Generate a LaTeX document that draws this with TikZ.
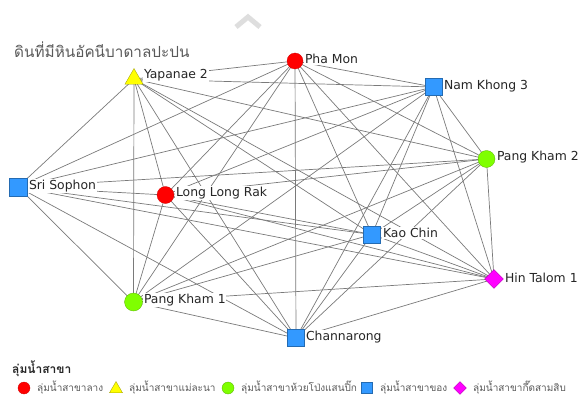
\documentclass[tikz,border=0pt]{standalone}
\usepackage{fontspec}
\setmainfont{DejaVu Sans}
\newfontfamily\thaifont[Script=Thai]{Loma}
\usetikzlibrary{shapes.geometric,backgrounds}
\definecolor{edgegray}{HTML}{7A7A7A}
\definecolor{txtgray}{HTML}{5A5A5A}
\definecolor{nred}{HTML}{FF0000}
\definecolor{nyellow}{HTML}{FFFF00}
\definecolor{ngreen}{HTML}{7FFF00}
\definecolor{nblue}{HTML}{3399FF}
\definecolor{nmag}{HTML}{FF00FF}
\tikzset{
  redc/.style={circle,fill=nred,draw=nred!80!black,line width=0.3pt,inner sep=0pt,minimum size=#1},
  greenc/.style={circle,fill=ngreen,draw=ngreen!70!black,line width=0.3pt,inner sep=0pt,minimum size=#1},
  bluesq/.style={rectangle,fill=nblue,draw=nblue!70!black,line width=0.4pt,inner sep=0pt,minimum size=#1},
  yellowtri/.style={regular polygon,regular polygon sides=3,fill=nyellow,draw=nyellow!60!black,line width=0.3pt,inner sep=0pt,minimum size=#1},
  magdia/.style={diamond,fill=nmag,draw=nmag!70!black,line width=0.3pt,inner sep=0pt,minimum width=#1,minimum height=#1},
  lbl/.style={anchor=west,fill=white,inner sep=0.8pt,font=\fontsize{12.4}{12.4}\selectfont,text=black!85},
  edge/.style={draw=edgegray,line width=0.7pt},
  legtxt/.style={anchor=west,inner sep=0pt,font=\thaifont\fontsize{10}{10}\selectfont,text=txtgray}
}
\begin{document}
\begin{tikzpicture}[x=1pt,y=-1pt]
\useasboundingbox (0,0) rectangle (579,396);
% chevron
\draw[draw=black!13,line width=5pt,line cap=butt,line join=miter] (236,27) -- (248,17) -- (260,27);
% title
\node[anchor=west,inner sep=0pt,font=\thaifont\fontsize{15.3}{15.3}\selectfont,text=txtgray] (title) at (14,50) {ดินที่มีหินอัคนีบาดาลปะปน};
% nodes
\node[yellowtri=21] (ya) at (134,79) {};
\node[redc=16] (pm) at (295,61) {};
\node[bluesq=17] (nk) at (433.5,87) {};
\node[greenc=17] (pk2) at (486.5,159) {};
\node[bluesq=18] (ss) at (18,187) {};
\node[redc=17] (llr) at (165.5,195) {};
\node[bluesq=17] (kc) at (372,234.5) {};
\node[magdia=19] (ht) at (494,279) {};
\node[greenc=18] (pk1) at (133.5,302) {};
\node[bluesq=17] (ch) at (296,338) {};
% edges (complete graph)
\begin{scope}[on background layer]
\foreach \a [count=\i] in {ya,pm,nk,pk2,ss,llr,kc,ht,pk1,ch}{
  \foreach \b [count=\j] in {ya,pm,nk,pk2,ss,llr,kc,ht,pk1,ch}{
    \ifnum\j>\i \draw[edge] (\a.center) -- (\b.center); \fi
  }
}
\end{scope}
% labels
\node[lbl] (lya) at (143,75) {Yapanae 2};
\node[lbl] (lpm) at (304,59) {Pha Mon};
\node[lbl] (lnk) at (443,86) {Nam Khong 3};
\node[lbl] (lpk2) at (496,157) {Pang Kham 2};
\node[lbl] (lss) at (28,186) {Sri Sophon};
\node[lbl] (lllr) at (175,193) {Long Long Rak};
\node[lbl] (lkc) at (382,233) {Kao Chin};
\node[lbl] (lht) at (504,278) {Hin Talom 1};
\node[lbl] (lpk1) at (143,300) {Pang Kham 1};
\node[lbl] (lch) at (305,337) {Channarong};
% legend
\node[anchor=west,inner sep=0pt,font=\thaifont\bfseries\fontsize{12}{12}\selectfont,text=black!85] (legt) at (12,369) {ลุ่มน้ำสาขา};
\node[redc=12] (lg1) at (24,388) {};
\node[legtxt] (lt1) at (37,388) {ลุ่มน้ำสาขาลาง};
\node[yellowtri=15] (lg2) at (116,389) {};
\node[legtxt] (lt2) at (129,388) {ลุ่มน้ำสาขาแม่ละนา};
\node[greenc=12] (lg3) at (228,388) {};
\node[legtxt] (lt3) at (241,388) {ลุ่มน้ำสาขาห้วยโป่งแสนปิ๊ก};
\node[bluesq=11] (lg4) at (367,388) {};
\node[legtxt] (lt4) at (380,388) {ลุ่มน้ำสาขาของ};
\node[magdia=13] (lg5) at (460,388) {};
\node[legtxt] (lt5) at (473,388) {ลุ่มน้ำสาขากึ๊ดสามสิบ};
\end{tikzpicture}
\end{document}
